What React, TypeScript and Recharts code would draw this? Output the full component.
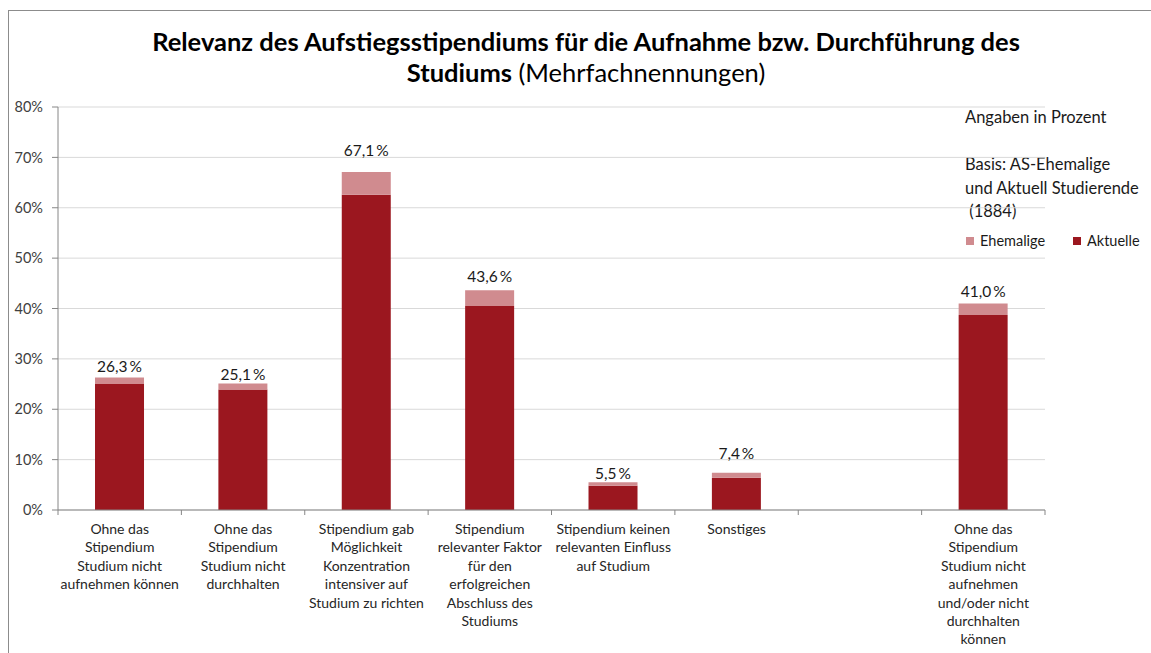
import React from 'react';
import {
  BarChart,
  Bar,
  XAxis,
  YAxis,
  CartesianGrid,
  LabelList,
  Legend
} from 'recharts';

const categories = [
  'Ohne das\nStipendium\nStudium nicht\naufnehmen können',
  'Ohne das\nStipendium\nStudium nicht\ndurchhalten',
  'Stipendium gab\nMöglichkeit\nKonzentration\nintensiver auf\nStudium zu richten',
  'Stipendium\nrelevanter Faktor\nfür den\nerfolgreichen\nAbschluss des\nStudiums',
  'Stipendium keinen\nrelevanten Einfluss\nauf Studium',
  'Sonstiges',
  '',
  'Ohne das\nStipendium\nStudium nicht\naufnehmen\nund/oder nicht\ndurchhalten\nkönnen'
];
const aktuelle = [25.0, 23.9, 62.6, 40.5, 4.8, 6.4, null, 38.7];
const ehemalige = [1.3, 1.2, 4.5, 3.1, 0.7, 1.0, null, 2.3];
const totals = [26.3, 25.1, 67.1, 43.6, 5.5, 7.4, null, 41.0];
const yTicks = [0, 10, 20, 30, 40, 50, 60, 70, 80];

// distance from bar top to the centre of its value label (as placed in the original);
// the empty slot may be skipped by the label list, so slots 6 and 7 share the same lift
const labelLift = [11, 9, 21, 14, 9, 19, 12, 12];

const data = categories.map((name, i) => ({
  name,
  aktuelle: aktuelle[i],
  ehemalige: ehemalige[i],
  total: totals[i]
}));

const FONT = 'Lato, sans-serif';
const W = 1151;
const H = 653;
const MARGIN = { top: 107, right: 106, bottom: 0, left: 0 };
const YAXIS_W = 58;
const XAXIS_H = 143;
const BAND = (W - MARGIN.left - MARGIN.right - YAXIS_W) / categories.length;
const DARK = '#9B171F';
const LIGHT = '#D08B8F';
const AXIS = '#868686';

const fmt = (v: number) => v.toFixed(1).replace('.', ',') + '\u2009%';

const CategoryTick = (props: any) => {
  const { x, y, payload, index } = props;
  const lines = String(payload.value).split('\n').filter((l) => l.length > 0);
  const half = BAND / 2;
  return (
    <g>
      <line x1={x - half} y1={y} x2={x - half} y2={y + 5} stroke={AXIS} />
      {index === categories.length - 1 && (
        <line x1={x + half} y1={y} x2={x + half} y2={y + 5} stroke={AXIS} />
      )}
      <text x={x} y={y + 19} textAnchor="middle" fontSize={14} fill="#262626" fontFamily={FONT}>
        {lines.map((l, i) => (
          <tspan key={i} x={x} dy={i === 0 ? '0.35em' : 18.4}>
            {l}
          </tspan>
        ))}
      </text>
    </g>
  );
};

const ValueLabel = (props: any) => {
  const { x, y, width, value, index } = props;
  if (value == null) return null;
  return (
    <text
      x={x + width / 2}
      y={y - labelLift[index]}
      dy="0.35em"
      textAnchor="middle"
      fontSize={15.5}
      fill="#1a1a1a"
      fontFamily={FONT}
    >
      {fmt(value)}
    </text>
  );
};

const LegendBox = () => (
  <div style={{ fontFamily: FONT, fontSize: 14.5, color: '#1a1a1a', display: 'flex' }}>
    <span style={{ display: 'flex', alignItems: 'center', width: 107 }}>
      <span style={{ width: 8, height: 8, background: LIGHT, marginRight: 6 }} />
      Ehemalige
    </span>
    <span style={{ display: 'flex', alignItems: 'center' }}>
      <span style={{ width: 8, height: 8, background: DARK, marginRight: 6 }} />
      Aktuelle
    </span>
  </div>
);

const App: React.FC = () => {
  return (
    <div
      style={{
        position: 'fixed',
        left: 0,
        top: 0,
        width: W,
        height: H,
        overflow: 'hidden',
        background: '#fff',
        fontFamily: FONT
      }}
    >
      <div
        style={{
          position: 'absolute',
          left: 8,
          top: 10,
          width: W + 20,
          height: H + 20,
          borderTop: '1.5px solid #8c8c8c',
          borderLeft: '1.5px solid #8c8c8c'
        }}
      />
      <div
        style={{
          position: 'absolute',
          left: 0,
          width: 1172,
          top: 26,
          textAlign: 'center',
          fontSize: 25.5,
          lineHeight: '31px',
          color: '#000'
        }}
      >
        <b>Relevanz des Aufstiegsstipendiums für die Aufnahme bzw. Durchführung des</b>
        <br />
        <b>Studiums</b> (Mehrfachnennungen)
      </div>
      <div
        style={{
          position: 'absolute',
          left: 965,
          top: 106,
          fontSize: 16.5,
          lineHeight: '23.5px',
          color: '#1a1a1a',
          whiteSpace: 'pre'
        }}
      >
        {'Angaben in Prozent\n\nBasis: AS-Ehemalige\nund Aktuell Studierende\n (1884)'}
      </div>
      <div style={{ position: 'absolute', left: 0, top: 0 }}>
        <BarChart
          width={W}
          height={H}
          data={data}
          margin={MARGIN}
          barCategoryGap="30%"
        >
          <CartesianGrid vertical={false} stroke="#D9D9D9" />
          <XAxis
            dataKey="name"
            interval={0}
            height={XAXIS_H}
            tickLine={false}
            tickSize={0}
            tickMargin={0}
            stroke={AXIS}
            tick={<CategoryTick />}
          />
          <YAxis
            width={YAXIS_W}
            domain={[0, 80]}
            ticks={yTicks}
            interval={0}
            tickSize={6}
            tickMargin={9}
            stroke={AXIS}
            tickFormatter={(v: number) => `${v}%`}
            tick={{ fill: '#404040', fontSize: 14.5, fontFamily: FONT }}
          />
          <Legend
            layout="horizontal"
            verticalAlign="middle"
            align="center"
            wrapperStyle={{ position: 'absolute', left: 966, top: 232, width: 190 }}
            content={<LegendBox />}
          />
          <Bar dataKey="aktuelle" name="Aktuelle" stackId="a" fill={DARK} isAnimationActive={false} />
          <Bar dataKey="ehemalige" name="Ehemalige" stackId="a" fill={LIGHT} isAnimationActive={false}>
            <LabelList dataKey="total" content={<ValueLabel />} />
          </Bar>
        </BarChart>
      </div>
    </div>
  );
};

export default App;
